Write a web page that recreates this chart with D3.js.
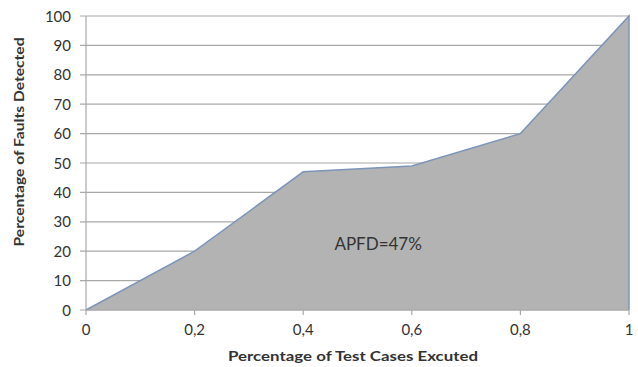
<!DOCTYPE html>
<html>
<head>
<meta charset="utf-8">
<script src="https://cdn.jsdelivr.net/npm/d3@7"></script>
<style>
  body { margin: 0; background: #fff; }
  text { font-family: Lato, "Open Sans", sans-serif; fill: #333; }
</style>
</head>
<body>
<div id="chart-area"></div>
<script>
// data
var xValues = [0, 0.2, 0.4, 0.6, 0.8, 1];
var yValues = [0, 20, 47, 49, 60, 100];
var xTicks = [0, 0.2, 0.4, 0.6, 0.8, 1];
var yTicks = [0, 10, 20, 30, 40, 50, 60, 70, 80, 90, 100];
var annotation = "APFD=47%";

var margin = { top: 16, right: 9, bottom: 57, left: 86 },
  width = 638 - margin.left - margin.right,
  height = 367 - margin.top - margin.bottom;

var svg = d3.select("#chart-area")
  .append("svg")
  .attr("width", 638)
  .attr("height", 367)
  .append("g")
  .attr("transform", "translate(" + margin.left + "," + margin.top + ")");

var x = d3.scaleLinear().domain([0, 1]).range([0, width]);
var y = d3.scaleLinear().domain([0, 100]).range([height, 0]);

// horizontal grid lines, sticking out a bit on the left like ticks
svg.append("g")
  .selectAll("line")
  .data(yTicks)
  .enter()
  .append("line")
  .attr("x1", -6)
  .attr("x2", width)
  .attr("y1", function(d) { return y(d); })
  .attr("y2", function(d) { return y(d); })
  .attr("stroke", "#a8a8a8")
  .attr("stroke-width", 1.2);

// y tick labels
svg.append("g")
  .selectAll("text")
  .data(yTicks)
  .enter()
  .append("text")
  .attr("x", -15)
  .attr("y", function(d) { return y(d) + 5.5; })
  .attr("text-anchor", "end")
  .attr("font-size", "15px")
  .text(function(d) { return d; });

// left axis line
svg.append("line")
  .attr("x1", 0).attr("x2", 0)
  .attr("y1", 0).attr("y2", height)
  .attr("stroke", "#a8a8a8")
  .attr("stroke-width", 1.2);

var pts = xValues.map(function(v, i) { return [v, yValues[i]]; });

// area
var area = d3.area()
  .x(function(d) { return x(d[0]); })
  .y0(y(0))
  .y1(function(d) { return y(d[1]); });

svg.append("path")
  .datum(pts)
  .attr("d", area)
  .attr("fill", "#b3b3b3");

// outline along the top and down the right edge
var line = d3.line()
  .x(function(d) { return x(d[0]); })
  .y(function(d) { return y(d[1]); });

var outline = pts.concat([[xValues[xValues.length - 1], 0]]);
svg.append("path")
  .datum(outline)
  .attr("d", line)
  .attr("fill", "none")
  .attr("stroke", "#7d95b9")
  .attr("stroke-width", 1.5);

// bottom axis
svg.append("line")
  .attr("x1", 0).attr("x2", width)
  .attr("y1", height).attr("y2", height)
  .attr("stroke", "#a8a8a8")
  .attr("stroke-width", 1.2);

svg.append("g")
  .selectAll("line")
  .data(xTicks)
  .enter()
  .append("line")
  .attr("x1", function(d) { return x(d); })
  .attr("x2", function(d) { return x(d); })
  .attr("y1", height)
  .attr("y2", height + 5)
  .attr("stroke", "#a8a8a8")
  .attr("stroke-width", 1.2);

svg.append("g")
  .selectAll("text")
  .data(xTicks)
  .enter()
  .append("text")
  .attr("x", function(d) { return x(d); })
  .attr("y", height + 25)
  .attr("text-anchor", "middle")
  .attr("font-size", "15px")
  .text(function(d) { return String(d).replace(".", ","); });

// annotation
svg.append("text")
  .attr("x", x(0.538))
  .attr("y", y(20.5))
  .attr("text-anchor", "middle")
  .attr("font-size", "17px")
  .text(annotation);

// axis titles
svg.append("text")
  .attr("x", 353 - margin.left)
  .attr("y", height + 51)
  .attr("text-anchor", "middle")
  .attr("font-size", "14px")
  .attr("font-weight", "bold")
  .attr("textLength", 250)
  .attr("lengthAdjust", "spacingAndGlyphs")
  .text("Percentage of Test Cases Excuted");

svg.append("text")
  .attr("transform", "rotate(-90)")
  .attr("x", -(142 - margin.top))
  .attr("y", -62)
  .attr("text-anchor", "middle")
  .attr("font-size", "14px")
  .attr("font-weight", "bold")
  .attr("textLength", 209)
  .attr("lengthAdjust", "spacingAndGlyphs")
  .text("Percentage of Faults Detected");
</script>
</body>
</html>
